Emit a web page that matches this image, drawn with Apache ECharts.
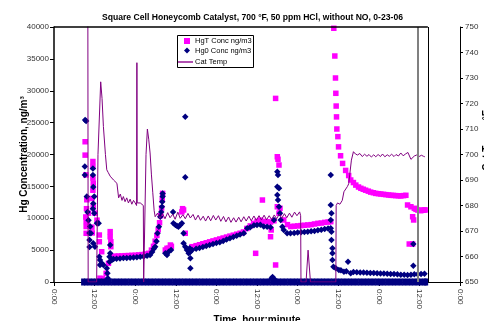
<!DOCTYPE html>
<html>
<head>
<meta charset="utf-8">
<script src="https://cdn.jsdelivr.net/npm/echarts@6/dist/echarts.min.js"></script>
<style>
html, body { margin: 0; padding: 0; background: #fff; }
#chart { width: 484px; height: 321px; }
</style>
</head>
<body>
<div id="chart"></div>
<script>
// time in hours from the first 0:00 mark, concentrations in ng/m3
var hgT = [
    [9.2, 22000], [9.2, 19900], [9.4, 16800], [9.4, 10200], [9.5, 9500], [9.5, 8700], [9.5, 7640],
    [9.7, 12900], [9.6, 11500], [10.2, 10800], [9.9, 9200],
    [11.2, 13100], [11.5, 18900], [11.5, 18100], [11.5, 16300], [11.6, 15500], [11.5, 14400],
    [11.6, 11800], [12.1, 10800], [11.2, 8600], [11.3, 7700], [12.7, 9700],
    [13.4, 7370], [13.4, 6320], [14.1, 4750], [15.4, 1360], [16.1, 2930], [13.6, 600], [14.3, 500],
    [16.6, 7900], [16.6, 7100], [16.8, 6320], [16.8, 5540],
    [17.1, 4000], [18, 4050], [19, 4080], [20, 4100], [21, 4130], [22, 4150], [23, 4180], [24, 4200],
    [25, 4250], [26, 4300], [27, 4400], [28, 4500],
    [28.8, 5000], [29.4, 5600], [29.9, 6400], [30.4, 7300], [30.8, 8200], [31.2, 9300], [31.5, 10400],
    [31.8, 11600], [32.0, 12900], [32.1, 13900],
    [32.9, 5020], [33.4, 5290], [33.9, 5300], [34.4, 5800], [34.7, 5600],
    [37.8, 11000], [38.3, 11300], [38.0, 11500], [38.8, 7640],
    [40.8, 5540], [42, 5700], [43, 5850], [44, 6000], [45, 6150], [46, 6300], [47, 6450], [48, 6600],
    [49, 6750], [50, 6900], [51, 7050], [52, 7200], [53, 7350], [54, 7500], [55, 7650], [56, 7850],
    [57, 8400], [58, 8800], [59, 9200], [60, 9500], [61, 9700], [62, 9500], [63, 9460], [64, 9400], [65, 9600],
    [59.6, 4500], [61.6, 12860], [64.2, 8160], [64.0, 7100], [65.5, 28800], [65.5, 2670],
    [66.0, 19650], [66.2, 19250], [66.5, 18350], [66.0, 11800], [66.8, 11560], [66.5, 10780],
    [67.9, 9730], [69, 9000], [70, 8700], [71, 8750], [72, 8800], [73, 8850], [74, 8900], [75, 8950],
    [76, 9000], [77, 9100], [78, 9200], [79, 9250], [80, 9350], [81, 9400], [81.8, 9460],
    [82.7, 39800], [83.0, 35450], [83.2, 32000], [83.3, 29600], [83.4, 27600], [83.5, 25900],
    [83.6, 24000], [83.9, 22800], [84.1, 21200], [84.7, 19800], [85.3, 18600], [86.2, 17500],
    [87.1, 16700], [87.7, 16000], [88.5, 15600], [89.2, 15200], [90.0, 14900], [90.7, 14700],
    [91.4, 14550], [92.1, 14400], [92.9, 14250], [93.6, 14100], [94.4, 14000], [95.1, 13900],
    [95.9, 13850], [96.6, 13800], [97.4, 13750], [98.1, 13700], [98.9, 13650], [99.6, 13600],
    [100.3, 13580], [101.0, 13550], [101.8, 13520], [102.5, 13500], [103.3, 13550], [104.0, 13600],
    [104.5, 12080], [105.5, 11800], [106.0, 10240], [106.3, 9730], [106.5, 11560], [107.0, 11400],
    [107.5, 11300], [108.0, 11250], [108.4, 11180], [109.0, 11250], [109.4, 11300], [109.7, 11300],
    [105.0, 5960], [106.0, 5960]
];

var hg0 = [
    [9.2, 25400], [9.5, 25250], [9.1, 18100], [9.1, 16800], [9.7, 13400], [9.9, 11000], [10.2, 9700],
    [10.5, 7700], [10.5, 6600], [10.5, 5500], [10.9, 7640], [10.7, 8700],
    [11.5, 17800], [11.5, 16800], [11.6, 14900], [11.9, 13400], [11.6, 12300], [11.5, 11500],
    [11.9, 10800], [12.7, 9200], [13.2, 9200], [11.6, 6070], [12.1, 5540],
    [13.4, 3970], [13.6, 3450], [13.6, 2670], [14.1, 2930], [14.6, 2670], [15.6, 2150], [15.8, 1360],
    [15.9, 580], [16.4, 3970], [16.4, 3180], [16.6, 5800], [16.6, 4500], [17.1, 3450],
    [17.6, 3600], [18.5, 3650], [19.5, 3700], [20.5, 3750], [21.5, 3780], [22.5, 3820], [23.5, 3850],
    [24.5, 3900], [25.5, 3950], [26.5, 4000], [27.5, 4100], [28.4, 4240],
    [29.0, 4700], [29.5, 5200], [29.9, 5540], [30.3, 6400], [30.6, 7640], [31.0, 8670], [31.4, 10240],
    [31.7, 11000], [31.9, 11800], [32.0, 12600], [32.1, 13400], [32.1, 13900],
    [32.9, 4500], [33.4, 4240], [33.9, 4750], [34.6, 5020], [35.2, 11000], [35.3, 9200], [35.9, 8940],
    [36.4, 8780], [36.8, 8670], [37.3, 8940], [37.8, 9200],
    [38.8, 25930], [38.8, 16420], [38.3, 7640], [38.3, 6070], [38.8, 5540], [39.3, 5020], [39.8, 4500],
    [40.3, 3720], [40.3, 4750], [40.1, 5290], [40.3, 2150],
    [40.8, 5020], [42, 5200], [43, 5350], [44, 5500], [45, 5650], [46, 5800], [47, 5950], [48, 6100],
    [49, 6250], [50, 6450], [51, 6650], [52, 6850], [53, 7050], [54, 7250], [55, 7450], [56.1, 7640],
    [57.1, 8420], [58, 8600], [59.1, 8900], [60, 8950], [61, 9000], [62, 8700], [63, 8670], [64, 8600],
    [65.0, 9730], [64.3, 600], [64.6, 800], [65.0, 500],
    [66.0, 17300], [66.2, 16800], [66.0, 14950], [66.5, 14700], [66.0, 13650], [66.2, 12860],
    [66.5, 11800], [66.8, 10780], [67.0, 9730], [67.5, 8670],
    [67.9, 8160], [68.9, 7640], [69.9, 7640], [71, 7700], [72, 7750], [73, 7800], [74, 7850], [75, 7900],
    [76, 7950], [77, 8000], [78, 8100], [79, 8200], [80, 8300], [81, 8400], [81.8, 8420],
    [81.8, 16800], [81.8, 12080], [82.0, 10780], [81.8, 9730], [82.0, 7900], [82.0, 6590], [82.3, 5290],
    [82.3, 4500], [82.3, 3450], [82.6, 2400], [83.3, 2150], [84.2, 1880], [85.7, 1620], [86.9, 3180],
    [87.7, 1360], [84.8, 1850], [86.4, 1700], [88.5, 1550], [89.5, 1520], [90.5, 1500], [91.5, 1480],
    [92.5, 1450], [93.5, 1420], [94.5, 1400], [95.5, 1370], [96.5, 1350], [97.5, 1320], [98.5, 1300],
    [99.5, 1270], [100.5, 1250], [101.5, 1200], [102.5, 1150], [103.5, 1120], [104.5, 1100],
    [105.5, 1150], [106.5, 1200], [107.5, 1230], [108.5, 1250], [109.5, 1300],
    [106.2, 5960], [106.2, 2560]
];

// hours at which the Hg0 analyser logged zero
var hg0ZeroTimes = [
    8.6, 9.5, 10.5, 11.5, 12.5, 13.5, 14.5, 15.5, 16.5, 17.5, 18.5, 19.5, 20.5, 21.5, 22.5, 23.5,
    24.5, 25.5, 26.5, 27.5, 28.5, 29.5, 30.5, 31.5, 32.5, 33.5, 34.5, 35.5, 36.5, 37.5, 38.5, 39.5,
    40.5, 41.5, 42.5, 43.5, 44.5, 45.5, 46.5, 47.5, 48.5, 49.5, 50.5, 51.5, 52.5, 53.5, 54.5, 55.5,
    56.5, 57.5, 58.5, 59.5, 60.5, 61.5, 62.5, 63.5, 64.5, 65.5, 66.5, 67.5, 68.5, 69.5, 70.5, 71.5,
    72.5, 73.5, 74.5, 75.5, 76.5, 77.5, 78.5, 79.5, 80.5, 81.5, 82.5, 83.5, 84.5, 85.5, 86.5, 87.5,
    88.5, 89.5, 90.5, 91.5, 92.5, 93.5, 94.5, 95.5, 96.5, 97.5, 98.5, 99.5, 100.5, 101.5, 102.5,
    103.5, 104.5, 105.5, 106.5, 107.5, 108.5, 109.5, 110.0
];

// catalyst temperature, F
var catTemp = [
    [10.0, 760], [10.1, 650], [12.6, 650], [13.0, 700], [13.8, 728.5], [14.2, 722], [14.6, 711],
    [15.2, 700], [15.6, 694], [16.0, 693], [16.6, 691.5], [17.1, 690.8], [17.6, 690], [18.1, 689.5],
    [18.6, 688.7], [18.9, 688], [19.1, 683], [19.6, 684.5], [20.1, 682], [20.5, 683.5], [21, 681.5],
    [21.5, 683], [22, 681], [22.5, 682.5], [23, 680.5], [23.5, 682], [24.0, 681], [24.4, 680],
    [24.5, 736], [24.6, 681], [25.5, 681], [26.4, 680], [26.5, 650], [26.9, 650], [27.2, 700],
    [27.6, 710], [28.0, 706], [28.4, 700.6], [28.8, 692], [29.2, 685], [29.6, 678], [29.9, 675.6],
    [30.6, 677.0], [31.3, 675.0], [32.1, 676.8], [32.8, 674.8], [33.6, 677.2], [34.3, 675.2],
    [35.1, 676.6], [35.8, 674.6], [36.6, 677.4], [37.3, 675.0], [38.1, 676.4], [38.8, 674.8],
    [39.6, 676.9], [40.3, 675.1], [41.1, 676.5], [41.8, 674.3], [42.6, 676.2], [43.3, 674.2],
    [44.1, 675.8], [44.8, 673.9], [45.6, 675.9], [46.3, 674.0], [47.1, 676.1], [47.8, 674.3],
    [48.6, 676.0], [49.3, 673.8], [50.1, 675.7], [50.8, 673.6], [51.6, 675.5], [52.3, 673.4],
    [53.1, 675.2], [53.8, 673.5], [54.6, 675.4], [55.3, 673.6], [56.1, 675.6], [56.8, 673.9],
    [57.6, 675.8], [58.3, 674.0], [59.1, 675.9], [59.8, 674.2], [60.6, 676.0], [61.3, 674.3],
    [62.1, 676.2], [62.8, 674.4], [63.6, 676.0], [64.3, 674.5], [65.1, 676.3], [65.8, 674.8],
    [66.6, 676.6], [67.3, 675.0], [68.1, 676.8], [68.8, 675.2], [69.6, 677.0], [70.3, 675.4],
    [71.1, 677.4], [71.8, 676.0], [72.6, 677.5], [72.9, 676.0],
    [73.0, 650], [74.5, 650], [75.1, 662.5], [75.8, 650], [83.3, 650], [83.4, 680], [83.8, 681],
    [84.5, 680.5], [85.2, 682], [85.7, 685.4], [86.2, 686], [86.7, 687.4], [87.1, 688.5], [87.4, 692],
    [87.9, 697.8], [88.5, 701.1], [89.1, 700.2], [89.7, 699.8], [90.4, 700.4], [91.1, 699.2],
    [91.8, 700.1], [92.5, 699.3], [93.1, 700.0], [93.8, 699.0], [94.5, 699.9], [95.1, 699.1],
    [95.8, 700.0], [96.5, 699.2], [97.1, 700.2], [97.8, 699.1], [98.5, 699.9], [99.1, 699.3],
    [99.8, 700.1], [100.5, 699.2], [101.1, 700.0], [101.8, 699.4], [102.5, 700.6], [103.2, 699.5],
    [103.9, 700.2], [104.6, 700.8], [105.0, 700.5], [105.5, 698.1], [106.0, 698.5], [106.5, 699.4],
    [107.2, 699.8], [107.9, 699.2], [108.6, 699.7], [109.2, 699.3], [109.6, 699.1]
];

var titleText = 'Square Cell Honeycomb Catalyst, 700 \u00b0F, 50 ppm HCl, without NO, 0-23-06';
var seriesNames = ['HgT Conc ng/m3', 'Hg0 Conc ng/m3', 'Cat Temp'];
var plotEndHour = 110.5;   // right edge of the inner plot frame
var shadeHour = 107.6;     // grey divider line

var font = 'Liberation Sans, Arial, sans-serif';
var chart = echarts.init(document.getElementById('chart'), null, { renderer: 'canvas' });

var hg0Zeros = hg0ZeroTimes.map(function (t) { return [t, 0]; });
var legendText = { fontSize: 7.5, fontFamily: font, color: '#000' };

var option = {
    animation: false,
    backgroundColor: '#fff',
    title: {
        text: titleText,
        left: 97,
        top: 8,
        textStyle: { fontSize: 8.6, fontWeight: 'bold', fontFamily: font, color: '#000' }
    },
    graphic: [{
        type: 'rect',
        left: 177,
        top: 35,
        z: 1,
        shape: { width: 76, height: 32 },
        style: { fill: '#fff', stroke: '#000', lineWidth: 1 }
    }],
    legend: [{
        orient: 'vertical',
        left: 184,
        top: 37,
        itemGap: 1.5,
        itemWidth: 6,
        itemHeight: 6,
        padding: 0,
        textStyle: legendText,
        data: [
            { name: seriesNames[0], icon: 'rect' },
            { name: seriesNames[1], icon: 'diamond' }
        ]
    }, {
        orient: 'vertical',
        left: 178,
        top: 58,
        itemWidth: 15,
        itemHeight: 2,
        padding: 0,
        textStyle: Object.assign({ padding: [0, 0, 0, -3] }, legendText),
        data: [{ name: seriesNames[2], icon: 'rect', itemStyle: { color: '#b050b0' } }]
    }],
    grid: { left: 54, right: 24, top: 27, bottom: 39, outerBoundsMode: 'none', containLabel: false },
    xAxis: {
        type: 'value',
        min: 0,
        max: 120,
        interval: 12,
        name: 'Time, hour:minute',
        nameLocation: 'middle',
        nameGap: 33,
        nameMoveOverlap: false,
        nameTextStyle: { fontSize: 10, fontWeight: 'bold', fontFamily: font, color: '#000', verticalAlign: 'top' },
        axisLine: { lineStyle: { color: '#000', width: 1 } },
        axisTick: { length: 4, lineStyle: { color: '#000' } },
        axisLabel: {
            rotate: -90,
            fontSize: 8,
            fontFamily: font,
            color: '#333',
            margin: 7,
            formatter: function (v) { return v % 24 === 0 ? '0:00' : '12:00'; }
        },
        splitLine: { show: false }
    },
    yAxis: [{
        type: 'value',
        min: 0,
        max: 40000,
        interval: 5000,
        name: 'Hg Concentration, ng/m\u00b3',
        nameLocation: 'middle',
        nameGap: 25,
        nameMoveOverlap: false,
        nameTextStyle: { fontSize: 10, fontWeight: 'bold', fontFamily: font, color: '#000' },
        axisLine: { show: true, lineStyle: { color: '#000', width: 1.5 } },
        axisTick: { show: true, length: 4, lineStyle: { color: '#000' } },
        axisLabel: {
            fontSize: 8, fontFamily: font, color: '#333', margin: 5,
            formatter: function (v) { return String(v); }
        },
        splitLine: { show: false }
    }, {
        type: 'value',
        min: 650,
        max: 750,
        interval: 10,
        position: 'right',
        name: 'Cat Temp, \u00b0F',
        nameLocation: 'middle',
        nameGap: 22,
        nameRotate: 90,
        nameMoveOverlap: false,
        nameTextStyle: {
            fontSize: 10, fontWeight: 'bold', fontFamily: font, color: '#000',
            padding: [0, 0, 0, 28]
        },
        axisLine: { show: true, lineStyle: { color: '#000', width: 1 } },
        axisTick: { show: true, length: 3, lineStyle: { color: '#000' } },
        axisLabel: {
            fontSize: 8, fontFamily: font, color: '#333', margin: 5,
            formatter: function (v) { return String(v); }
        },
        splitLine: { show: false }
    }],
    series: [{
        name: seriesNames[0],
        type: 'scatter',
        symbol: 'rect',
        symbolSize: 5.5,
        itemStyle: { color: '#ff00ff', opacity: 1 },
        data: hgT
    }, {
        name: seriesNames[1],
        type: 'scatter',
        symbol: 'diamond',
        symbolSize: 6.5,
        itemStyle: { color: '#000080', opacity: 1 },
        data: hg0
    }, {
        name: seriesNames[1],
        type: 'scatter',
        symbol: 'rect',
        symbolSize: [4, 7],
        itemStyle: { color: '#000080', opacity: 1 },
        data: hg0Zeros
    }, {
        name: seriesNames[2],
        type: 'line',
        yAxisIndex: 1,
        showSymbol: false,
        symbol: 'none',
        lineStyle: { color: '#800080', width: 1 },
        itemStyle: { color: '#b050b0' },
        data: catTemp,
        markLine: {
            silent: true,
            symbol: 'none',
            label: { show: false },
            data: [
                { xAxis: shadeHour, lineStyle: { color: '#808080', width: 2, type: 'solid' } },
                { xAxis: plotEndHour, lineStyle: { color: '#000', width: 1, type: 'solid' } },
                [{ coord: [0, 750], lineStyle: { color: '#000', width: 1.5, type: 'solid' } }, { coord: [plotEndHour, 750] }]
            ]
        }
    }]
};

chart.setOption(option);
</script>
</body>
</html>
